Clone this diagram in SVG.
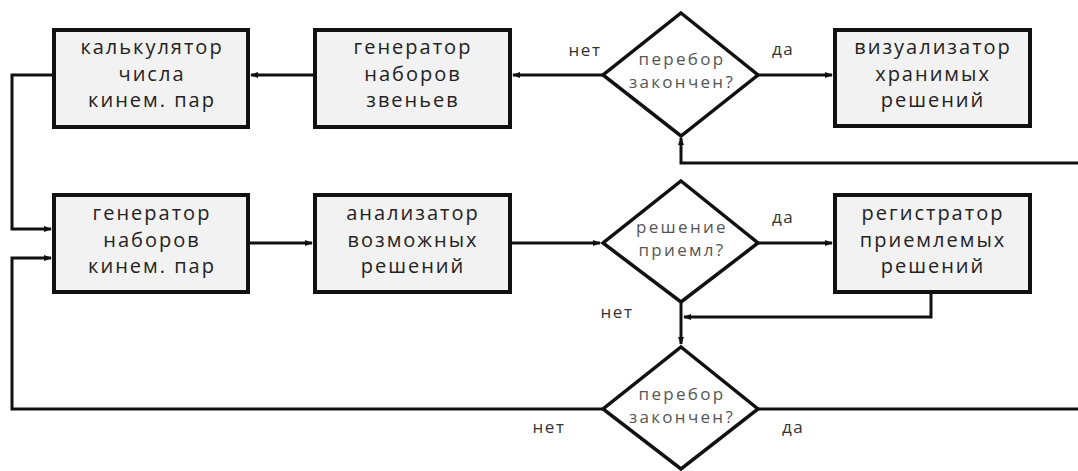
<svg xmlns="http://www.w3.org/2000/svg" width="1078" height="471" viewBox="0 0 1078 471">
<style>
.box{fill:#f2f2f2;stroke:#111;stroke-width:4}
.dia{fill:#fff;stroke:#111;stroke-width:3.5;stroke-linejoin:miter}
.bt{font-family:"Open Sans","Liberation Sans",sans-serif;font-size:20px;letter-spacing:2px;fill:#222;text-anchor:middle}
.dt{font-family:"Open Sans","Liberation Sans",sans-serif;font-size:17px;letter-spacing:2.3px;fill:#555;text-anchor:middle}
.lb{font-family:"Open Sans","Liberation Sans",sans-serif;font-size:17px;letter-spacing:1.5px;fill:#333;text-anchor:middle}
.ln{fill:none;stroke:#111;stroke-width:3}
</style>
<defs>
<marker id="ah" markerWidth="8" markerHeight="8" refX="7" refY="4" orient="auto" markerUnits="userSpaceOnUse">
<path d="M0,1 L8,4 L0,7 Z" fill="#111"/>
</marker>
</defs>
<rect width="1078" height="471" fill="#fff"/>
<g id="connectors">
<path class="ln" d="M315,75 H251" marker-end="url(#ah)"/>
<path class="ln" d="M603,75 H513" marker-end="url(#ah)"/>
<path class="ln" d="M758,75 H832" marker-end="url(#ah)"/>
<path class="ln" d="M1078,163 H681 V138" marker-end="url(#ah)"/>
<path class="ln" d="M54,75 H12 V229 H51" marker-end="url(#ah)"/>
<path class="ln" d="M248,243 H312" marker-end="url(#ah)"/>
<path class="ln" d="M510,243 H600" marker-end="url(#ah)"/>
<path class="ln" d="M758,243 H832" marker-end="url(#ah)"/>
<path class="ln" d="M931,293 V317 H684" marker-end="url(#ah)"/>
<path class="ln" d="M681,302 V344" marker-end="url(#ah)"/>
<path class="ln" d="M603,409 H12 V258 H51" marker-end="url(#ah)"/>
<path class="ln" d="M758,409 H1078"/>
</g>
<g id="n_calc">
<rect class="box" x="54" y="30" width="194" height="97"/>
<text class="bt" x="152" y="54">калькулятор</text>
<text class="bt" x="152" y="81">числа</text>
<text class="bt" x="152" y="107">кинем. пар</text>
</g>
<g id="n_genlinks">
<rect class="box" x="315" y="30" width="195" height="97"/>
<text class="bt" x="413" y="54">генератор</text>
<text class="bt" x="413" y="81">наборов</text>
<text class="bt" x="413" y="107">звеньев</text>
</g>
<g id="n_dec1">
<polygon class="dia" points="681,13 758,75 681,136 603,75"/>
<text class="dt" x="682" y="65">перебор</text>
<text class="dt" x="682" y="88">закончен?</text>
<text class="lb" x="585" y="56">нет</text>
<text class="lb" x="783" y="55">да</text>
</g>
<g id="n_vis">
<rect class="box" x="835" y="30" width="195" height="96"/>
<text class="bt" x="933" y="54">визуализатор</text>
<text class="bt" x="933" y="81">хранимых</text>
<text class="bt" x="933" y="107">решений</text>
</g>
<g id="n_genpairs">
<rect class="box" x="54" y="195" width="194" height="97"/>
<text class="bt" x="152" y="220">генератор</text>
<text class="bt" x="152" y="247">наборов</text>
<text class="bt" x="152" y="273">кинем. пар</text>
</g>
<g id="n_anal">
<rect class="box" x="315" y="195" width="195" height="97"/>
<text class="bt" x="413" y="220">анализатор</text>
<text class="bt" x="413" y="247">возможных</text>
<text class="bt" x="413" y="273">решений</text>
</g>
<g id="n_dec2">
<polygon class="dia" points="681,181 758,243 681,302 603,243"/>
<text class="dt" x="682" y="233">решение</text>
<text class="dt" x="682" y="256">приемл?</text>
<text class="lb" x="783" y="223">да</text>
<text class="lb" x="617" y="318">нет</text>
</g>
<g id="n_reg">
<rect class="box" x="835" y="195" width="195" height="97"/>
<text class="bt" x="933" y="220">регистратор</text>
<text class="bt" x="933" y="247">приемлемых</text>
<text class="bt" x="933" y="273">решений</text>
</g>
<g id="n_dec3">
<polygon class="dia" points="681,347 758,409 681,469 603,409"/>
<text class="dt" x="682" y="400">перебор</text>
<text class="dt" x="682" y="423">закончен?</text>
<text class="lb" x="549" y="433">нет</text>
<text class="lb" x="793" y="433">да</text>
</g>
</svg>
